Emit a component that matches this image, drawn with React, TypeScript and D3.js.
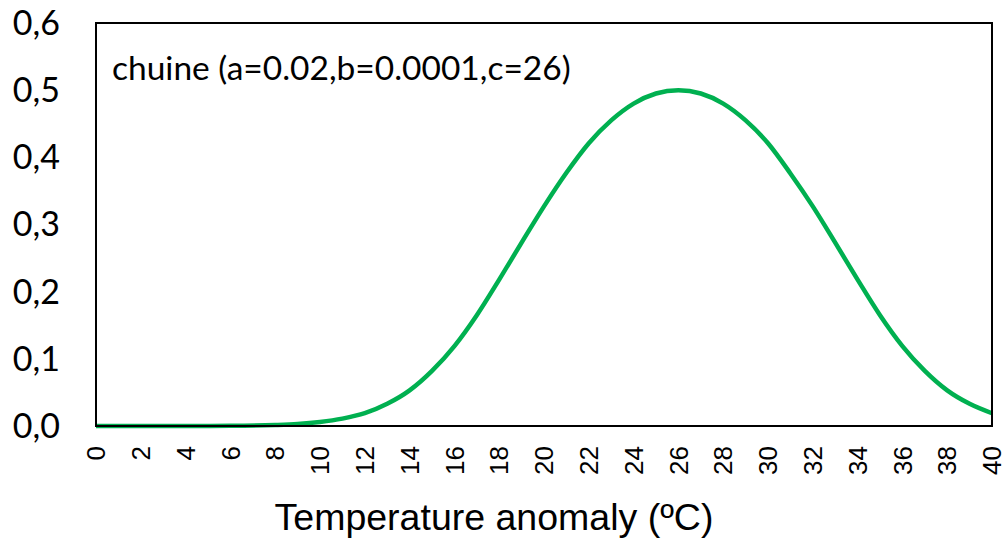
import React, { useEffect, useRef } from 'react';
import * as d3 from 'd3';

// temperature (ºC) and response
const temps = [0, 2, 4, 6, 8, 9, 10, 11, 12, 13, 14, 15, 16, 17, 18, 19, 20, 21, 22, 23, 24, 25, 26,
  27, 28, 29, 30, 31, 32, 33, 34, 35, 36, 37, 38, 39, 40];
const response = [0.0, 0.0, 0.0001, 0.0003, 0.0015, 0.003, 0.006, 0.011, 0.019, 0.033, 0.053, 0.082, 0.119,
  0.165, 0.218, 0.273, 0.327, 0.377, 0.421, 0.455, 0.48, 0.495, 0.5,
  0.495, 0.48, 0.455, 0.421, 0.376, 0.327, 0.273, 0.218, 0.165, 0.119, 0.082, 0.053, 0.033, 0.019];
const xTicks = d3.range(0, 41, 2);
const yTicks = [0, 0.1, 0.2, 0.3, 0.4, 0.5, 0.6];
const seriesLabel = 'chuine (a=0.02,b=0.0001,c=26)';
const xTitle = 'Temperature anomaly (ºC)';

const App = () => {
  const svgRef = useRef<SVGSVGElement>(null);

  useEffect(() => {
    const width = 1003;
    const height = 539;
    const left = 96, right = 992, top = 23, bottom = 426;
    const calibri = 'Lato, Carlito, Calibri, sans-serif';
    const arial = '"Liberation Sans", Arial, sans-serif';

    const svg = d3.select(svgRef.current);
    svg.selectAll('*').remove();
    svg.attr('width', width).attr('height', height);

    const x = d3.scaleLinear().domain([0, 40]).range([left, right]);
    const y = d3.scaleLinear().domain([0, 0.6]).range([bottom, top]);

    svg.append('rect').attr('width', width).attr('height', height).attr('fill', '#fff');

    // y labels
    svg.append('g')
      .selectAll('text')
      .data(yTicks)
      .join('text')
      .attr('x', 60)
      .attr('y', d => y(d))
      .attr('dy', '0.35em')
      .attr('text-anchor', 'end')
      .style('font-family', calibri)
      .style('font-size', '34px')
      .style('fill', '#000')
      .text(d => d.toFixed(1).replace('.', ','));

    // x labels (rotated)
    svg.append('g')
      .selectAll('text')
      .data(xTicks)
      .join('text')
      .attr('transform', d => `translate(${x(d)},446) rotate(-90)`)
      .attr('dy', '0.35em')
      .attr('text-anchor', 'end')
      .style('font-family', arial)
      .style('font-size', '26px')
      .style('fill', '#000')
      .text(d => d);

    // curve
    const line = d3.line<number>()
      .x((_, i) => x(temps[i]))
      .y(d => y(d))
      .curve(d3.curveMonotoneX);

    svg.append('path')
      .datum(response)
      .attr('d', line)
      .attr('fill', 'none')
      .attr('stroke', '#00b050')
      .attr('stroke-width', 4.5);

    // plot border
    svg.append('rect')
      .attr('x', left)
      .attr('y', top)
      .attr('width', right - left)
      .attr('height', bottom - top)
      .attr('fill', 'none')
      .attr('stroke', '#000')
      .attr('stroke-width', 2);

    svg.append('text')
      .attr('x', 112)
      .attr('y', 80)
      .style('font-family', calibri)
      .style('font-size', '33.5px')
      .style('fill', '#000')
      .text(seriesLabel);

    svg.append('text')
      .attr('x', (left + right) / 2 - 50)
      .attr('y', 530)
      .attr('text-anchor', 'middle')
      .style('font-family', arial)
      .style('font-size', '37.5px')
      .style('fill', '#000')
      .text(xTitle);
  }, []);

  return <svg ref={svgRef} style={{ position: 'absolute', left: 0, top: 0 }}></svg>;
};

export default App;
